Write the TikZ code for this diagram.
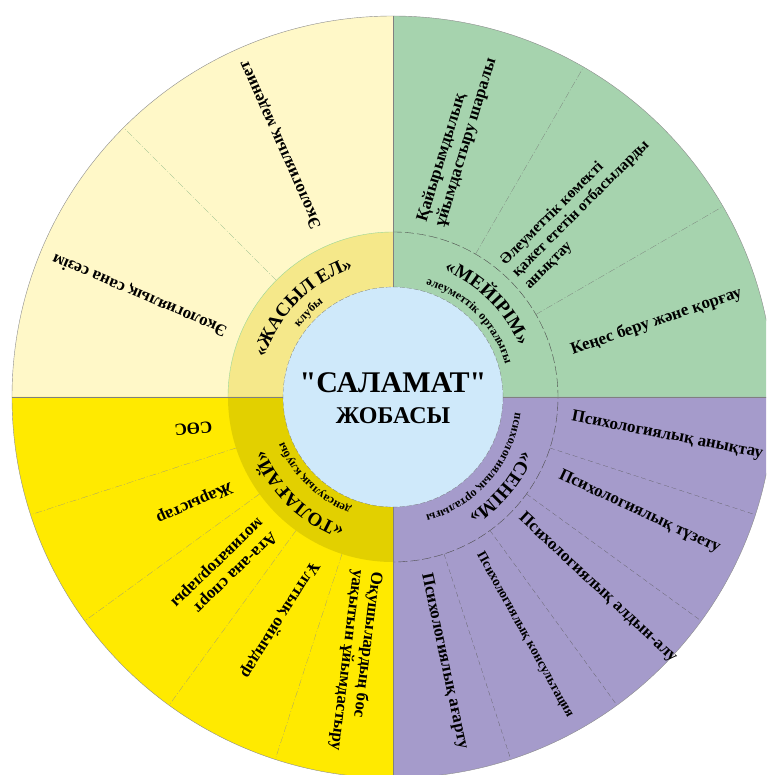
\documentclass[tikz,border=0pt]{standalone}
\usepackage{fontspec}
\setmainfont{Liberation Serif}
\newfontfamily\titlefont{Liberation Serif}[Ligatures=TeXOff]
\usetikzlibrary{decorations.text}

\definecolor{creampart}{RGB}{255,248,200}
\definecolor{creamring}{RGB}{245,232,138}
\definecolor{greenpart}{RGB}{166,211,174}
\definecolor{purplepart}{RGB}{165,155,203}
\definecolor{yellowpart}{RGB}{255,234,0}
\definecolor{yellowring}{RGB}{226,208,0}
\definecolor{centerblue}{RGB}{207,233,250}

\tikzset{
  seglabel/.style={font=\fontsize{17}{19}\selectfont\bfseries, align=left, inner sep=0pt},
  divider/.style={black!55, very thin, dash pattern=on 7pt off 2pt on 1pt off 2pt},
}

\begin{document}
\begin{tikzpicture}[x=1pt,y=1pt] % one unit = one pixel of the layout
\useasboundingbox (-393,-378) rectangle (373,397);
\clip (-393,-378) rectangle (373,397);

% four quarters of the wheel
\fill[creampart] (0,0) -- (90:381) arc[start angle=90,end angle=180,radius=381] -- cycle;
\fill[greenpart] (0,0) -- (0:381) arc[start angle=0,end angle=90,radius=381] -- cycle;
\fill[purplepart] (0,0) -- (-90:381) arc[start angle=-90,end angle=0,radius=381] -- cycle;
\fill[yellowpart] (0,0) -- (180:381) arc[start angle=180,end angle=270,radius=381] -- cycle;

% inner ring where it differs
\fill[creamring] (0,0) -- (90:165) arc[start angle=90,end angle=180,radius=165] -- cycle;
\fill[yellowring] (0,0) -- (180:165) arc[start angle=180,end angle=270,radius=165] -- cycle;

\draw[black!45, thin] (0,0) circle (381);
\draw[black!40!green!40, thin] (90:165) arc[start angle=90,end angle=180,radius=165];
\draw[black!70, thin, dash pattern=on 9pt off 3pt] (90:165) arc[start angle=90,end angle=-90,radius=165];

% centre
\fill[centerblue] (0,0) circle (110);
\draw[black!60, very thin, dash pattern=on 5pt off 2pt] (0,0) circle (110);

% quarter borders
\foreach \a in {0,90,180,270}
  \draw[black!50, thin] (\a:110) -- (\a:381);

% dividers inside the quarters
\draw[divider, green!40!black!50] (135:165) -- (135:381);
\foreach \a in {30,60}
  \draw[divider] (\a:165) -- (\a:381);
\foreach \a in {198,216,234,252}
  \draw[divider, black!45] (\a:165) -- (\a:381);
\foreach \a in {-18,-36,-54,-72}
  \draw[divider, black!65, dash pattern=on 5pt off 3pt] (\a:165) -- (\a:381);

% project title
\node[font=\titlefont\fontsize{30}{32}\selectfont\bfseries] (title) at (0,14) {"САЛАМАТ"};
\node[font=\fontsize{24}{26}\selectfont\bfseries] (subtitle) at (0,-19) {ЖОБАСЫ};

% ring names
\path[decorate, decoration={text along path, text align=center,
  text={|\fontsize{19}{20}\selectfont\bfseries|«ЖАСЫЛ ЕЛ»}}]
  (175:134) arc[start angle=175,end angle=95,radius=134];
\path[decorate, decoration={text along path, text align=center,
  text={|\fontsize{12}{13}\selectfont\bfseries|клубы}}]
  (175:117) arc[start angle=175,end angle=95,radius=117];

\path[decorate, decoration={text along path, text align=center,
  text={|\fontsize{19}{20}\selectfont\bfseries|«МЕЙІРІМ»}}]
  (85:136) arc[start angle=85,end angle=5,radius=136];
\path[decorate, decoration={text along path, text align=center,
  text={|\fontsize{12}{13}\selectfont\bfseries|әлеуметтік орталығы}}]
  (88:117) arc[start angle=88,end angle=2,radius=117];

\path[decorate, decoration={text along path, text align=center,
  text={|\fontsize{19}{20}\selectfont\bfseries|«СЕНІМ»}}]
  (-2:140) arc[start angle=-2,end angle=-78,radius=140];
\path[decorate, decoration={text along path, text align=center,
  text={|\fontsize{12}{13}\selectfont\bfseries|психологиялық орталығы}}]
  (-1:123) arc[start angle=-1,end angle=-81,radius=123];

\path[decorate, decoration={text along path, text align=center,
  text={|\fontsize{19}{20}\selectfont\bfseries|«ТОЛАҒАЙ»}}]
  (265:139) arc[start angle=265,end angle=187,radius=139];
\path[decorate, decoration={text along path, text align=center,
  text={|\fontsize{12}{13}\selectfont\bfseries|денсаулық клубы}}]
  (268:118) arc[start angle=268,end angle=184,radius=118];

% cream quarter
\node[seglabel, rotate=114] (ekomad) at (114:276) {Экологиялық мәдениет};
\node[seglabel, rotate=157] (ekosana) at (158:273) {Экологиялық сана сезім};

% green quarter
\node[seglabel, rotate=73] (kaiyr) at (76:265) {Қайырымдылық\\ұйымдастыру шаралы};
\node[seglabel, rotate=45, font=\fontsize{15.5}{17}\selectfont\bfseries] (aleumet) at (45:266)
  {Әлеуметтік көмекті\\қажет ететін отбасыларды\\анықтау};
\node[seglabel, rotate=19] (kenes) at (16:274) {Кеңес беру және қорғау};

% yellow quarter
\node[seglabel, rotate=186] (sos) at (189:202) {СӨС};
\node[seglabel, rotate=204] (zharys) at (208:225) {Жарыстар};
\node[seglabel, rotate=224] (ataana) at (225.5:242) {Ата-ана спорт\\мотиваторлары};
\node[seglabel, rotate=238] (ulttyk) at (243:250) {Ұлттық ойындар};
\node[seglabel, rotate=263] (okush) at (262:267) {Оқушылардың бос\\уақытын ұйымдастыру};

% purple quarter
\node[seglabel, rotate=-11] (anyktau) at (-8:277) {Психологиялық анықтау};
\node[seglabel, rotate=-25] (tuzetu) at (-25:272) {Психологиялық түзету};
\node[seglabel, rotate=-43] (aldyn) at (-43:280) {Психологиялық алдын-алу};
\node[seglabel, rotate=-61, font=\fontsize{13.5}{15}\selectfont\bfseries] (konsult) at (-61:272) {Психологиялық консультация};
\node[seglabel, rotate=-78] (agartu) at (-79:269) {Психологиялық ағарту};
\end{tikzpicture}
\end{document}
